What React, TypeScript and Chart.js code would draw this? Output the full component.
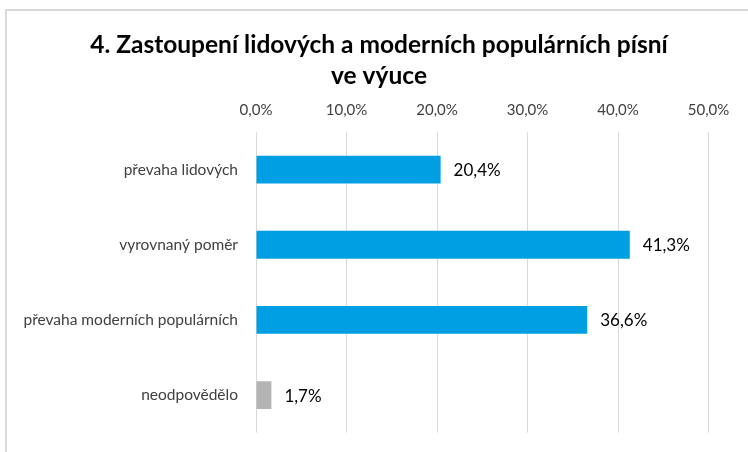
import React, { useEffect, useRef } from "react";
import { Chart, registerables } from "chart.js";

Chart.register(...registerables);

const titleLines = ["4. Zastoupení lidových a moderních populárních písní", "ve výuce"];
const categories = ["převaha lidových", "vyrovnaný poměr", "převaha moderních populárních", "neodpovědělo"];
const values = [20.4, 41.3, 36.6, 1.7];
const barColors = ["#009FE3", "#009FE3", "#009FE3", "#B4B4B4"];
const xMin = 0;
const xMax = 50;
const xStep = 10;

const FONT = 'Lato, "Open Sans", sans-serif';
const fmt = (v: number) => v.toFixed(1).replace(".", ",") + "%";

export default function App() {
  const ref = useRef<HTMLCanvasElement | null>(null);
  useEffect(() => {
    if (!ref.current) return;
    const framePlugin = {
      id: "frame",
      beforeDraw(chart: any) {
        const c = chart.ctx;
        c.save();
        c.fillStyle = "#ffffff";
        c.fillRect(0, 0, chart.width, chart.height);
        c.strokeStyle = "#d9d9d9";
        c.lineWidth = 2;
        c.beginPath();
        c.moveTo(6, chart.height + 5);
        c.lineTo(6, 10);
        c.lineTo(chart.width + 5, 10);
        c.stroke();
        c.fillStyle = "#000000";
        c.font = `bold 24.5px ${FONT}`;
        c.textAlign = "center";
        c.textBaseline = "middle";
        c.fillText(titleLines[0], 379, 45);
        c.fillText(titleLines[1], 379, 76);
        c.restore();
      },
    };
    const labelPlugin = {
      id: "barLabels",
      afterDatasetsDraw(chart: any) {
        const c = chart.ctx;
        const meta = chart.getDatasetMeta(0);
        c.save();
        c.fillStyle = "#000000";
        c.font = `17px ${FONT}`;
        c.textAlign = "left";
        c.textBaseline = "middle";
        meta.data.forEach((bar: any, i: number) => {
          c.fillText(fmt(values[i]), bar.x + 13, bar.y + 1);
        });
        c.restore();
      },
    };
    const chart = new Chart(ref.current, {
      type: "bar",
      data: {
        labels: categories,
        datasets: [
          {
            data: values,
            backgroundColor: barColors,
            borderWidth: 0,
            categoryPercentage: 1,
            barPercentage: 0.37,
          },
        ],
      },
      options: {
        indexAxis: "y",
        animation: false,
        responsive: false,
        devicePixelRatio: 1,
        layout: { padding: { left: 0, right: 39.5, top: 102, bottom: 18 } },
        plugins: { legend: { display: false }, tooltip: { enabled: false }, title: { display: false } },
        scales: {
          x: {
            position: "top",
            min: xMin,
            max: xMax,
            ticks: {
              stepSize: xStep,
              color: "#404040",
              font: { family: FONT, size: 15 },
              padding: 13,
              callback: (v: any) => fmt(Number(v)),
            },
            grid: { color: "#d9d9d9", lineWidth: 1, drawTicks: false },
            border: { display: false },
            afterFit: (s: any) => {
              s.height = 30;
            },
          },
          y: {
            ticks: {
              color: "#404040",
              font: { family: FONT, size: 15.5 },
              padding: 10,
            },
            grid: { display: false },
            border: { display: false },
            afterFit: (s: any) => {
              s.width = 256;
            },
          },
        },
      },
      plugins: [framePlugin, labelPlugin],
    });
    return () => chart.destroy();
  }, []);
  return (
    <div style={{ position: "fixed", left: 0, top: 0, width: 748, height: 452 }}>
      <canvas ref={ref} width={748} height={452} style={{ width: 748, height: 452 }} />
    </div>
  );
}
